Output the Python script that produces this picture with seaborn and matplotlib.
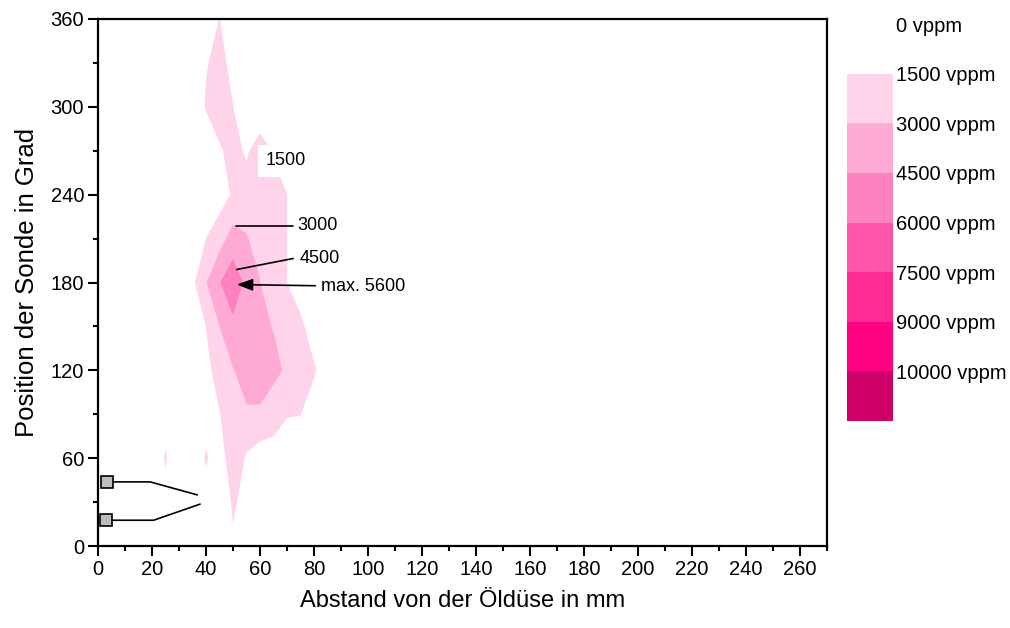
import numpy as np
import matplotlib
matplotlib.use("Agg")
import matplotlib.pyplot as plt
from matplotlib.ticker import MultipleLocator
import seaborn as sns

# ---------------- data ----------------
# distance from the oil nozzle (mm) and probe position (degrees)
x_mm = [20, 25, 30, 35, 40, 45, 50, 55, 60, 65, 70, 75, 80, 85, 90]
angle_deg = [0, 30, 60, 90, 120, 150, 180, 210, 240, 270, 300, 330, 360]
# concentration in vppm, one row per angle (0 ... 360), one column per distance
row_000 = [0, 0, 0, 0, 0, 1530, 1286, 0, 0, 0, 0, 0, 0, 0, 0]
row_030 = [0, 800, 0, 0, 800, 450, 1700, 1033, 0, 0, 0, 0, 0, 0, 0]
row_060 = [0, 1700, 0, 0, 1700, 500, 2773, 1293, 682, 819, 0, 0, 0, 0, 0]
row_090 = [0, 800, 0, 0, 800, 1450, 2400, 2860, 2835, 2200, 1650, 1550, 0, 0, 0]
row_120 = [0, 0, 0, 0, 1100, 2100, 2950, 3500, 3600, 3400, 2800, 2200, 1850, 0, 0]
row_150 = [0, 0, 0, 0, 1531, 3020, 4165, 3800, 3300, 2950, 2500, 2143, 0, 0, 0]
row_180 = [0, 0, 0, 1184, 2940, 4454, 5600, 4153, 3050, 1800, 1505, 0, 0, 0, 0]
row_210 = [0, 0, 0, 0, 1520, 2417, 3636, 3100, 2500, 2000, 1510, 0, 0, 0, 0]
row_240 = [0, 0, 0, 0, 0, 800, 1697, 2340, 2200, 2000, 1510, 0, 0, 0, 0]
row_270 = [0, 0, 0, 0, 0, 1270, 2155, 1245, 2500, 1389, 0, 0, 0, 0, 0]
row_300 = [0, 0, 0, 0, 1667, 2500, 1520, 0, 0, 0, 0, 0, 0, 0, 0]
row_330 = [0, 0, 0, 0, 1390, 2000, 1038, 0, 0, 0, 0, 0, 0, 0, 0]
row_360 = [0, 0, 0, 0, 0, 1550, 0, 0, 0, 0, 0, 0, 0, 0, 0]
conc = [row_000, row_030, row_060, row_090, row_120, row_150, row_180,
        row_210, row_240, row_270, row_300, row_330, row_360]

levels = [0, 1500, 3000, 4500, 6000, 7500, 9000, 10000, 11000]
level_labels = ["0 vppm", "1500 vppm", "3000 vppm", "4500 vppm", "6000 vppm",
                "7500 vppm", "9000 vppm", "10000 vppm"]
level_colors = ["#FFFFFF", "#FFD4EA", "#FFAAD4", "#FF80BF", "#FF55AA",
                "#FF2B95", "#FF0080", "#CC0066"]

# contour labels: (text, line start, line end, text position)
lab_3000 = ("3000", (51.1, 218.4), (72.2, 218.4), (73.7, 218.8))
lab_4500 = ("4500", (51.4, 188.9), (72.3, 196.4), (74.8, 196.6))
lab_max = ("max. 5600", (51.4, 178.6), (80.5, 177.8), (82.6, 177.6))
lab_1500 = ("1500", (61.9, 263.0))

# nozzle markers (square + leader line)
nozzle_sq_x = [3.2, 3.0]
nozzle_sq_y = [43.8, 18.1]
leader1_x = [5.3, 19.3, 36.8]
leader1_y = [43.8, 43.8, 34.9]
leader2_x = [5.1, 20.6, 37.8]
leader2_y = [17.6, 17.6, 28.6]

# ---------------- plot ----------------
sns.set_theme(style="ticks")
plt.rcParams["font.family"] = ["Liberation Sans", "DejaVu Sans"]

W, H = 1010, 628
fig = plt.figure(figsize=(W / 100, H / 100), dpi=100)
ax = fig.add_axes([98 / W, 1 - 546 / H, (827 - 98) / W, (546 - 19) / H])

cf = ax.contourf(x_mm, angle_deg, np.array(conc, dtype=float),
                 levels=levels, colors=level_colors, antialiased=True)

ax.set_xlim(0, 270)
ax.set_ylim(0, 360)
ax.xaxis.set_major_locator(MultipleLocator(20))
ax.xaxis.set_minor_locator(MultipleLocator(10))
ax.yaxis.set_major_locator(MultipleLocator(60))
ax.yaxis.set_minor_locator(MultipleLocator(30))
ax.tick_params(which="major", direction="out", length=7, width=1.5,
               labelsize=14.5, color="black", labelcolor="black", pad=3)
ax.tick_params(which="minor", direction="out", length=3.5, width=1.5,
               color="black")
for sp in ax.spines.values():
    sp.set_visible(True)
    sp.set_color("black")
    sp.set_linewidth(1.6)
ax.grid(False)

ax.set_xlabel("Abstand von der Öldüse in mm", fontsize=17, color="black",
              labelpad=8)
ax.set_ylabel("Position der Sonde in Grad", fontsize=18.5, color="black",
              labelpad=8)

# contour annotations
txt_kw = dict(fontsize=13, color="black", va="center", ha="left")
for lab in (lab_3000, lab_4500):
    t, p0, p1, pt = lab
    ax.plot([p0[0], p1[0]], [p0[1], p1[1]], color="black", lw=1.2)
    ax.text(pt[0], pt[1], t, **txt_kw)
t, tip, tail, pt = lab_max
ax.annotate("", xy=tip, xytext=tail,
            arrowprops=dict(arrowstyle="-|>,head_length=0.8,head_width=0.3",
                            color="black", lw=1.2, shrinkA=0, shrinkB=0))
ax.text(pt[0], pt[1], t, **txt_kw)
ax.text(lab_1500[1][0], lab_1500[1][1], lab_1500[0], fontsize=13,
        va="center", ha="left", color="black",
        bbox=dict(boxstyle="square,pad=0.42", fc="white", ec="none"))

# nozzle markers
ax.plot(leader1_x, leader1_y, color="black", lw=1.2)
ax.plot(leader2_x, leader2_y, color="black", lw=1.2)
ax.plot(nozzle_sq_x, nozzle_sq_y, ls="none", marker="s", ms=8,
        mfc="#BEBEBE", mec="black", mew=1.2, clip_on=False, zorder=5)

# colour scale
cax = fig.add_axes([847 / W, 1 - 421 / H, 46 / W, (421 - 24) / H])
cb = fig.colorbar(cf, cax=cax, ticks=levels[:-1])
cax.invert_yaxis()
cb.set_ticklabels(level_labels)
cb.outline.set_visible(False)
cax.tick_params(length=0, labelsize=14.5, pad=2, labelcolor="black")

fig.savefig("out.png", dpi=100, facecolor="white")
